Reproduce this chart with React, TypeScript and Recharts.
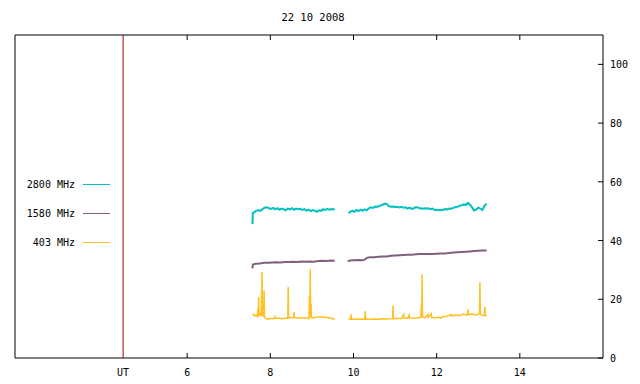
import React from 'react';
import {
  LineChart,
  Line,
  XAxis,
  YAxis,
  ReferenceLine,
  ReferenceArea,
  Legend
} from 'recharts';

// UT hours / flux values
const hours2800 = [
  7.57, 7.58, 7.62, 7.66, 7.72, 7.76, 7.8, 7.86, 7.92, 7.97, 8.02, 8.07, 8.12, 8.17, 8.22, 8.27, 8.32, 8.37,
  8.42, 8.47, 8.52, 8.57, 8.62, 8.67, 8.72, 8.77, 8.82, 8.87, 8.92, 8.97, 9.02, 9.07, 9.12, 9.17, 9.22, 9.27,
  9.32, 9.37, 9.42, 9.47, 9.55, 9.7,
  9.88, 9.92, 9.97, 10.02, 10.07, 10.12, 10.17, 10.22, 10.27, 10.32, 10.37, 10.42, 10.47, 10.52, 10.58, 10.64,
  10.7, 10.76, 10.8, 10.85, 10.9, 10.95, 11.0, 11.05, 11.1, 11.15, 11.2, 11.25, 11.3, 11.35, 11.4, 11.45, 11.5,
  11.55, 11.6, 11.65, 11.7, 11.75, 11.8, 11.85, 11.9, 11.95, 12.0, 12.05, 12.1, 12.15, 12.2, 12.25, 12.3, 12.35,
  12.4, 12.45, 12.5, 12.55, 12.6, 12.65, 12.7, 12.75, 12.8, 12.85, 12.9, 12.95, 13.0, 13.05, 13.1, 13.15, 13.2
];
const flux2800 = [
  45.6, 49.4, 49.7, 50.2, 50.3, 50.1, 50.6, 51.2, 51.3, 51.0, 50.8, 51.1, 50.6, 51.0, 50.5, 50.9, 50.7, 50.3,
  50.9, 50.6, 51.0, 50.5, 50.9, 50.7, 50.8, 50.4, 50.7, 50.2, 50.5, 50.0, 50.4, 50.1, 49.8, 50.3, 50.1, 50.7,
  50.4, 50.8, 50.5, 50.7, 50.6, null,
  49.3, 49.8, 50.1, 49.8, 50.4, 50.0, 50.5, 50.2, 50.6, 50.3, 51.0, 51.3, 51.1, 51.6, 51.5, 51.8,
  52.2, 52.6, 52.4, 51.7, 51.5, 51.6, 51.4, 51.5, 51.3, 51.5, 51.2, 51.3, 50.9, 51.2, 50.8, 51.0, 51.4,
  51.2, 51.0, 50.8, 51.0, 50.9, 51.0, 50.7, 50.9, 50.4, 50.5, 50.3, 50.5, 50.4, 50.7, 50.6, 50.9, 50.8,
  51.1, 51.4, 51.5, 51.8, 52.0, 52.3, 52.1, 52.8, 52.2, 51.3, 50.2, 50.5, 51.2, 50.9, 50.4, 51.8, 52.6
];

const hours1580 = [
  7.57, 7.58, 7.65, 7.75, 7.85, 7.95, 8.05, 8.15, 8.25, 8.35, 8.45, 8.55, 8.65, 8.75, 8.85, 8.95, 9.05, 9.15,
  9.25, 9.35, 9.45, 9.55, 9.7,
  9.86, 9.92, 10.0, 10.1, 10.2, 10.27, 10.32, 10.4, 10.5, 10.6, 10.7, 10.8, 10.9, 11.0, 11.1, 11.2, 11.3, 11.4,
  11.5, 11.6, 11.7, 11.8, 11.9, 12.0, 12.1, 12.2, 12.3, 12.4, 12.5, 12.6, 12.7, 12.8, 12.9, 13.0, 13.1, 13.2
];
const flux1580 = [
  30.5, 31.8, 32.1, 32.2, 32.4, 32.4, 32.5, 32.6, 32.5, 32.7, 32.7, 32.8, 32.7, 32.9, 32.8, 32.9, 32.8, 33.0,
  33.1, 33.0, 33.2, 33.1, null,
  32.9, 33.2, 33.3, 33.4, 33.3, 33.5, 34.1, 34.3, 34.3, 34.5, 34.6, 34.6, 34.8, 34.9, 35.0, 35.1, 35.2, 35.2,
  35.3, 35.4, 35.4, 35.4, 35.4, 35.5, 35.6, 35.6, 35.8, 35.9, 36.0, 36.1, 36.2, 36.3, 36.4, 36.5, 36.6, 36.6
];

const hours403 = [
  7.57, 7.6, 7.63, 7.66, 7.69, 7.7, 7.71, 7.72, 7.73, 7.76, 7.78, 7.8, 7.81, 7.84, 7.85, 7.86, 7.9, 7.95, 8.0,
  8.05, 8.1, 8.11, 8.12, 8.2, 8.3, 8.4, 8.42, 8.43, 8.44, 8.5, 8.56, 8.57, 8.58, 8.65, 8.75, 8.85, 8.92, 8.93,
  8.94, 8.95, 8.96, 8.97, 8.98, 8.99, 9.05, 9.1, 9.2, 9.3, 9.4, 9.5, 9.55, 9.7,
  9.88, 9.93, 9.94, 9.95, 10.05, 10.15, 10.27, 10.28, 10.29, 10.4, 10.5, 10.6, 10.7, 10.8, 10.94, 10.95, 10.96,
  11.05, 11.15, 11.21, 11.22, 11.3, 11.34, 11.35, 11.45, 11.55, 11.62, 11.63, 11.64, 11.65, 11.66, 11.72, 11.79,
  11.8, 11.87, 11.88, 11.95, 12.05, 12.1, 12.15, 12.25, 12.35, 12.36, 12.45, 12.55, 12.65, 12.74, 12.75, 12.76,
  12.85, 12.95, 13.0, 13.03, 13.04, 13.05, 13.1, 13.15, 13.16, 13.17, 13.2
];
const flux403 = [
  14.6, 14.9, 14.3, 14.6, 14.2, 16.8, 14.4, 20.8, 14.5, 15.0, 14.3, 29.3, 14.6, 14.2, 23.0, 14.0, 13.4, 13.2, 13.5,
  13.4, 13.5, 14.0, 13.5, 13.5, 13.4, 13.6, 13.5, 24.2, 13.8, 13.7, 13.8, 15.7, 13.8, 13.6, 13.6, 13.7, 13.5, 13.4,
  21.1, 13.9, 30.2, 14.0, 18.5, 13.6, 13.6, 14.0, 14.0, 13.9, 13.7, 13.4, 13.2, null,
  13.2, 13.2, 14.9, 13.2, 13.2, 13.3, 13.2, 15.9, 13.3, 13.2, 13.3, 13.2, 13.4, 13.3, 13.4, 17.9, 13.4,
  13.5, 13.4, 14.8, 13.5, 13.5, 14.6, 13.6, 13.5, 13.7, 13.8, 17.9, 13.9, 28.5, 14.0, 13.7, 14.9,
  13.8, 15.1, 13.8, 13.6, 13.9, 13.6, 14.1, 14.2, 14.8, 14.3, 14.6, 14.5, 14.9, 14.6, 16.6, 14.8,
  15.0, 14.6, 15.0, 15.4, 25.9, 14.9, 14.5, 14.5, 17.4, 14.6, 14.3
];

const hourTicks = [6, 8, 10, 12, 14];
const xTicks = [4.46, ...hourTicks];
const yTicks = [0, 20, 40, 60, 80, 100];
const utHour = 4.46;
const xDomain: [number, number] = [1.86, 16];
const yDomain: [number, number] = [0, 110];

const toRows = (hours: number[], flux: (number | null)[]) =>
  hours.map((h, i) => ({ h, v: flux[i] }));

const series = [
  { name: '2800 MHz', color: '#00c0c0', width: 2, data: toRows(hours2800, flux2800) },
  { name: '1580 MHz', color: '#806080', width: 2, data: toRows(hours1580, flux1580) },
  { name: '403 MHz', color: '#ffc020', width: 1.5, data: toRows(hours403, flux403) }
];

const FONT = '"DejaVu Sans Mono", monospace';

// gnuplot style: tick marks point into the plot
const BottomTick = (props: any) => {
  const { x, y, payload } = props;
  const isUT = payload.value === utHour;
  return (
    <g>
      {!isUT && <line x1={x} x2={x} y1={y} y2={y - 5} stroke="#000" />}
      <text x={x} y={y + 18} textAnchor="middle" fontFamily={FONT} fontSize={10} fill="#000">
        {isUT ? 'UT' : payload.value}
      </text>
    </g>
  );
};

const RightTick = (props: any) => {
  const { x, y, payload } = props;
  return (
    <g>
      <line x1={x} x2={x - 5} y1={y} y2={y} stroke="#000" />
      <text x={x + 7} y={y + 4} textAnchor="start" fontFamily={FONT} fontSize={10} fill="#000">
        {payload.value}
      </text>
    </g>
  );
};

const KeyBox = () => (
  <div style={{ width: 120, fontFamily: FONT, fontSize: 10, color: '#000' }}>
    {series.map((s) => (
      <div key={s.name} style={{ display: 'flex', alignItems: 'center', height: 29 }}>
        <span style={{ width: 75, textAlign: 'right' }}>{s.name}</span>
        <span style={{ display: 'inline-block', marginLeft: 8, width: 27, height: 1, background: s.color }} />
      </div>
    ))}
  </div>
);

const App: React.FC = () => {
  return (
    <div style={{ position: 'absolute', left: 0, top: 0, width: 640, height: 384, background: '#fff' }}>
      <div
        style={{
          position: 'absolute', left: 0, top: 11, width: 626, textAlign: 'center',
          fontFamily: FONT, fontSize: 10.5, color: '#000'
        }}
      >
        22 10 2008
      </div>
      <LineChart width={640} height={384} margin={{ top: 35, right: 7, left: 15, bottom: 6 }}>
        <XAxis
          dataKey="h"
          type="number"
          domain={xDomain}
          allowDataOverflow
          ticks={xTicks}
          interval={0}
          axisLine={false}
          tickLine={false}
          tickSize={0}
          tickMargin={0}
          height={20}
          tick={<BottomTick />}
        />
        <YAxis
          orientation="right"
          type="number"
          domain={yDomain}
          allowDataOverflow
          ticks={yTicks}
          interval={0}
          axisLine={false}
          tickLine={false}
          tickSize={0}
          tickMargin={0}
          width={30}
          tick={<RightTick />}
        />
        <ReferenceArea
          x1={xDomain[0]}
          x2={xDomain[1]}
          y1={yDomain[0]}
          y2={yDomain[1]}
          fill="none"
          fillOpacity={0}
          stroke="#000"
          strokeWidth={1}
        />
        {hourTicks.map((t) => (
          <ReferenceLine
            key={t}
            segment={[{ x: t, y: yDomain[1] }, { x: t, y: yDomain[1] - 1.7 }]}
            stroke="#000"
          />
        ))}
        <ReferenceLine x={utHour} stroke="#a00000" strokeWidth={1} />
        <Legend
          layout="horizontal"
          verticalAlign="middle"
          align="center"
          content={() => <KeyBox />}
          wrapperStyle={{ position: 'absolute', left: 0, top: 170, width: 120 }}
        />
        {series.map((s) => (
          <Line
            key={s.name}
            data={s.data}
            dataKey="v"
            name={s.name}
            type="linear"
            stroke={s.color}
            strokeWidth={s.width}
            dot={false}
            activeDot={false}
            connectNulls={false}
            isAnimationActive={false}
          />
        ))}
      </LineChart>
    </div>
  );
};

export default App;
